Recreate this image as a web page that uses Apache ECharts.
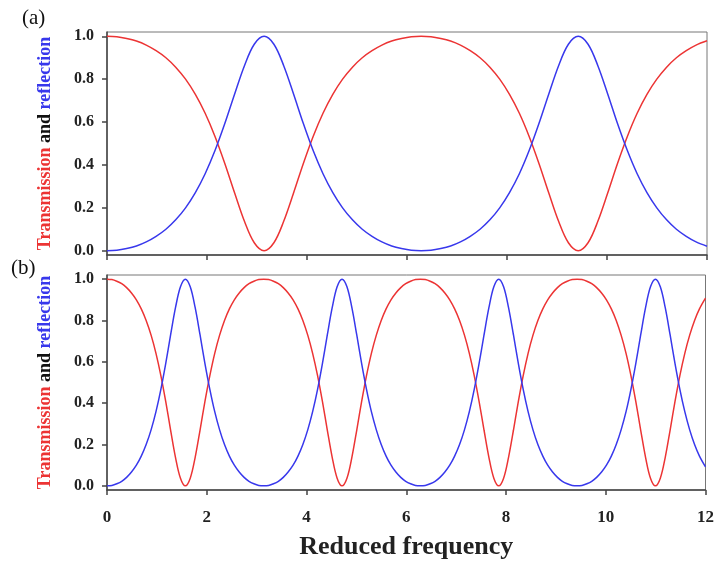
<!DOCTYPE html>
<html><head><meta charset="utf-8">
<script src="https://cdn.jsdelivr.net/npm/echarts@6/dist/echarts.min.js"></script>
<style>html,body{margin:0;padding:0;background:#fff}#c{width:717px;height:561px}</style>
</head><body><div id="c"></div><script>
// ---- data ----
const xTickLabels = [0, 2, 4, 6, 8, 10, 12];
const yTicks = [0, 0.2, 0.4, 0.6, 0.8, 1.0];

// panel (a): reduced frequency samples
const xA = [0.000,0.196,0.393,0.589,0.785,0.982,1.178,1.374,1.571,1.767,1.963,2.160,2.356,2.553,2.749,2.945,
3.142,3.338,3.534,3.731,3.927,4.123,4.320,4.516,4.712,4.909,5.105,5.301,5.498,5.694,5.890,6.087,
6.283,6.480,6.676,6.872,7.069,7.265,7.461,7.658,7.854,8.050,8.247,8.443,8.639,8.836,9.032,9.228,
9.425,9.621,9.817,10.014,10.210,10.407,10.603,10.799,10.996,11.192,11.388,11.585,11.781,12.000];
const transA = [1.000,0.998,0.990,0.978,0.959,0.933,0.900,0.856,0.800,0.729,0.641,0.533,0.407,0.269,0.137,0.037,
0.000,0.037,0.137,0.269,0.407,0.533,0.641,0.729,0.800,0.856,0.900,0.933,0.959,0.978,0.990,0.998,
1.000,0.998,0.990,0.978,0.959,0.933,0.900,0.856,0.800,0.729,0.641,0.533,0.407,0.269,0.137,0.037,
0.000,0.037,0.137,0.269,0.407,0.533,0.641,0.729,0.800,0.856,0.900,0.933,0.959,0.979];
const reflA = [0.000,0.002,0.010,0.022,0.041,0.067,0.100,0.144,0.200,0.271,0.359,0.467,0.593,0.731,0.863,0.963,
1.000,0.963,0.863,0.731,0.593,0.467,0.359,0.271,0.200,0.144,0.100,0.067,0.041,0.022,0.010,0.002,
0.000,0.002,0.010,0.022,0.041,0.067,0.100,0.144,0.200,0.271,0.359,0.467,0.593,0.731,0.863,0.963,
1.000,0.963,0.863,0.731,0.593,0.467,0.359,0.271,0.200,0.144,0.100,0.067,0.041,0.021];

// panel (b)
const xB = [0.000,0.098,0.196,0.295,0.393,0.491,0.589,0.687,0.785,0.884,0.982,1.080,1.178,1.276,1.374,1.473,
1.571,1.669,1.767,1.865,1.963,2.062,2.160,2.258,2.356,2.454,2.553,2.651,2.749,2.847,2.945,3.043,
3.142,3.240,3.338,3.436,3.534,3.632,3.731,3.829,3.927,4.025,4.123,4.222,4.320,4.418,4.516,4.614,
4.712,4.811,4.909,5.007,5.105,5.203,5.301,5.400,5.498,5.596,5.694,5.792,5.890,5.989,6.087,6.185,
6.283,6.381,6.480,6.578,6.676,6.774,6.872,6.970,7.069,7.167,7.265,7.363,7.461,7.560,7.658,7.756,
7.854,7.952,8.050,8.149,8.247,8.345,8.443,8.541,8.639,8.738,8.836,8.934,9.032,9.130,9.228,9.327,
9.425,9.523,9.621,9.719,9.817,9.916,10.014,10.112,10.210,10.308,10.407,10.505,10.603,10.701,10.799,10.897,
10.996,11.094,11.192,11.290,11.388,11.486,11.585,11.683,11.781,11.879,12.000];
const transB = [1.000,0.998,0.990,0.978,0.959,0.933,0.900,0.856,0.800,0.729,0.641,0.533,0.407,0.269,0.137,0.037,
0.000,0.037,0.137,0.269,0.407,0.533,0.641,0.729,0.800,0.856,0.900,0.933,0.959,0.978,0.990,0.998,
1.000,0.998,0.990,0.978,0.959,0.933,0.900,0.856,0.800,0.729,0.641,0.533,0.407,0.269,0.137,0.037,
0.000,0.037,0.137,0.269,0.407,0.533,0.641,0.729,0.800,0.856,0.900,0.933,0.959,0.978,0.990,0.998,
1.000,0.998,0.990,0.978,0.959,0.933,0.900,0.856,0.800,0.729,0.641,0.533,0.407,0.269,0.137,0.037,
0.000,0.037,0.137,0.269,0.407,0.533,0.641,0.729,0.800,0.856,0.900,0.933,0.959,0.978,0.990,0.998,
1.000,0.998,0.990,0.978,0.959,0.933,0.900,0.856,0.800,0.729,0.641,0.533,0.407,0.269,0.137,0.037,
0.000,0.037,0.137,0.269,0.407,0.533,0.641,0.729,0.800,0.856,0.908];
const reflB = [0.000,0.002,0.010,0.022,0.041,0.067,0.100,0.144,0.200,0.271,0.359,0.467,0.593,0.731,0.863,0.963,
1.000,0.963,0.863,0.731,0.593,0.467,0.359,0.271,0.200,0.144,0.100,0.067,0.041,0.022,0.010,0.002,
0.000,0.002,0.010,0.022,0.041,0.067,0.100,0.144,0.200,0.271,0.359,0.467,0.593,0.731,0.863,0.963,
1.000,0.963,0.863,0.731,0.593,0.467,0.359,0.271,0.200,0.144,0.100,0.067,0.041,0.022,0.010,0.002,
0.000,0.002,0.010,0.022,0.041,0.067,0.100,0.144,0.200,0.271,0.359,0.467,0.593,0.731,0.863,0.963,
1.000,0.963,0.863,0.731,0.593,0.467,0.359,0.271,0.200,0.144,0.100,0.067,0.041,0.022,0.010,0.002,
0.000,0.002,0.010,0.022,0.041,0.067,0.100,0.144,0.200,0.271,0.359,0.467,0.593,0.731,0.863,0.963,
1.000,0.963,0.863,0.731,0.593,0.467,0.359,0.271,0.200,0.144,0.092];

// ---- chart ----
const FONT = '"Liberation Serif","Times New Roman",serif';
const RED = '#ec3434', BLUE = '#3838ec';
const AX = '#444';
const zip = (xs, ys) => xs.map((x, i) => [x, ys[i]]);

function yAxisCfg(gi) {
  return {
    type: 'value', gridIndex: gi, min: -0.02, max: 1.02,
    axisLine: { show: true, onZero: false, lineStyle: { color: AX, width: 1.5 } },
    axisTick: { show: true, length: 5, customValues: yTicks, lineStyle: { color: AX, width: 1.5 } },
    axisLabel: { customValues: yTicks, formatter: v => v.toFixed(1), fontFamily: FONT,
      fontWeight: 'bold', fontSize: 16, color: '#222', margin: 13 },
    splitLine: { show: false },
    name: '{r|Transmission} {k|and} {b|reflection}',
    nameLocation: 'middle', nameGap: 53,
    nameTextStyle: {
      fontFamily: FONT, fontWeight: 'bold', fontSize: 18,
      rich: {
        r: { color: RED, fontFamily: FONT, fontWeight: 'bold', fontSize: 18 },
        k: { color: '#111', fontFamily: FONT, fontWeight: 'bold', fontSize: 18 },
        b: { color: BLUE, fontFamily: FONT, fontWeight: 'bold', fontSize: 18 }
      }
    }
  };
}
function xAxisCfg(gi, showLabels) {
  return {
    type: 'value', gridIndex: gi, min: xTickLabels[0], max: xTickLabels[xTickLabels.length - 1], interval: 2,
    axisLine: { show: true, onZero: false, lineStyle: { color: AX, width: 1.5 } },
    axisTick: { show: true, length: 5, lineStyle: { color: AX, width: 1.5 } },
    axisLabel: { show: showLabels, fontFamily: FONT, fontWeight: 'bold', fontSize: 17, color: '#222', margin: 19 },
    splitLine: { show: false },
    name: showLabels ? 'Reduced frequency' : '',
    nameLocation: 'middle', nameGap: 44,
    nameTextStyle: { fontFamily: FONT, fontWeight: 'bold', fontSize: 26, color: '#222' }
  };
}
function lineSeries(xi, data, color) {
  return {
    type: 'line', xAxisIndex: xi, yAxisIndex: xi, data: data, showSymbol: false,
    smooth: 0.35, lineStyle: { color: color, width: 1.5 }, itemStyle: { color: color },
    animation: false, z: 3
  };
}

const chart = echarts.init(document.getElementById('c'));
chart.setOption({
  backgroundColor: '#fff',
  animation: false,
  grid: [
    { left: 107, right: 10, top: 32, height: 223, show: true, borderColor: '#777', borderWidth: 1, containLabel: false },
    { left: 107, right: 10, top: 275, height: 216, show: true, borderColor: '#777', borderWidth: 1, containLabel: false }
  ],
  xAxis: [xAxisCfg(0, false), xAxisCfg(1, true)],
  yAxis: [yAxisCfg(0), yAxisCfg(1)],
  series: [
    lineSeries(0, zip(xA, transA), RED),
    lineSeries(0, zip(xA, reflA), BLUE),
    lineSeries(1, zip(xB, transB), RED),
    lineSeries(1, zip(xB, reflB), BLUE)
  ],
  graphic: [
    { type: 'text', left: 22, top: 8, style: { text: '(a)', font: '21px ' + FONT, fill: '#111' } },
    { type: 'text', left: 11, top: 258, style: { text: '(b)', font: '21px ' + FONT, fill: '#111' } }
  ]
});
</script></body></html>
